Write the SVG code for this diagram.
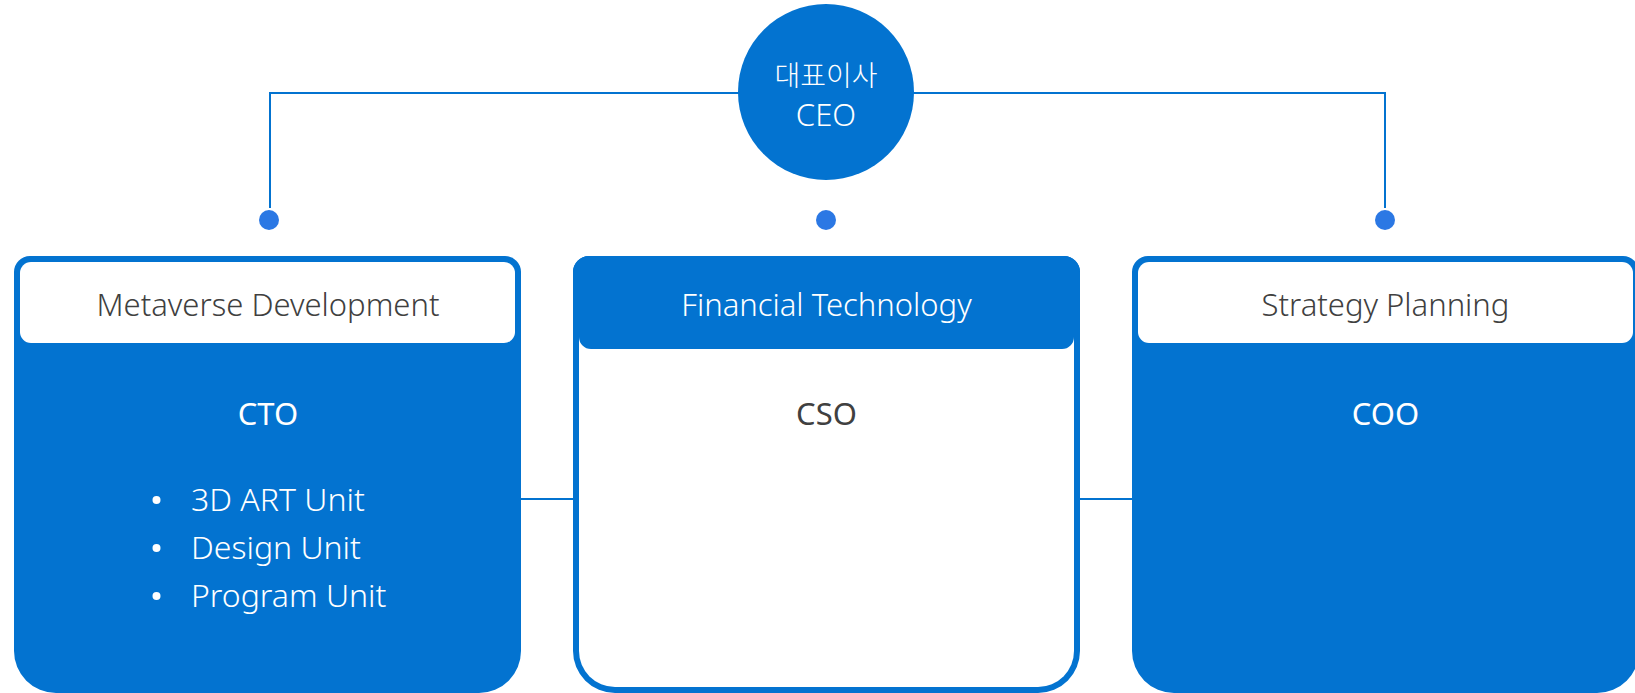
<svg xmlns="http://www.w3.org/2000/svg" width="1635" height="693" viewBox="0 0 1635 693">
<style>
.blue{fill:#0373d0}
.white{fill:#ffffff}
.conn{stroke:#0373d0;stroke-width:2;fill:none}
.dot{fill:#2b78e4}
.t{font-family:"Noto Sans","Noto Sans CJK KR",sans-serif;text-anchor:middle}
.hd{font-size:31px;font-weight:300}
.role{font-size:31px}
.li{font-family:"Noto Sans",sans-serif;font-size:32px;font-weight:300}
.dark{fill:#404040}
.lt{fill:#ffffff}
</style>
<rect width="1635" height="693" fill="#ffffff"/>
<g id="connectors">
<path class="conn" d="M270,208 V93 H1385 V208"/>
<line class="conn" x1="521" y1="499" x2="573" y2="499"/>
<line class="conn" x1="1080" y1="499" x2="1132" y2="499"/>
<circle class="dot" cx="269" cy="220" r="10"/>
<circle class="dot" cx="826" cy="220" r="10"/>
<circle class="dot" cx="1385" cy="220" r="10"/>
</g>
<g id="ceo">
<circle class="blue" cx="826" cy="92" r="88"/>
<text class="t lt" x="826" y="86" font-size="28" font-weight="300" style="font-family:'Noto Sans CJK KR',sans-serif">대표이사</text>
<text class="t lt" x="826" y="126" font-size="31" font-weight="300">CEO</text>
</g>
<g id="cto">
<path class="blue" d="M14,272 A16,16 0 0 1 30,256 H505 A16,16 0 0 1 521,272 V651 A42,42 0 0 1 479,693 H56 A42,42 0 0 1 14,651 Z"/>
<rect class="white" x="20" y="262" width="495" height="81" rx="11"/>
<text class="t hd dark" x="268" y="316">Metaverse Development</text>
<text class="t role lt" x="268" y="425">CTO</text>
<circle class="white" cx="156.5" cy="500" r="4"/>
<circle class="white" cx="156.5" cy="548" r="4"/>
<circle class="white" cx="156.5" cy="596" r="4"/>
<text class="li lt" x="191" y="511">3D ART Unit</text>
<text class="li lt" x="191" y="559">Design Unit</text>
<text class="li lt" x="191" y="607">Program Unit</text>
</g>
<g id="cso">
<path class="blue" d="M573,272 A16,16 0 0 1 589,256 H1064 A16,16 0 0 1 1080,272 V651 A42,42 0 0 1 1038,693 H615 A42,42 0 0 1 573,651 Z"/>
<path class="white" d="M579,330 H1074 V651 A36,36 0 0 1 1038,687 H615 A36,36 0 0 1 579,651 Z"/>
<path class="blue" d="M573,272 A16,16 0 0 1 589,256 H1064 A16,16 0 0 1 1080,272 V337 H1074 A12,12 0 0 1 1062,349 H591 A12,12 0 0 1 579,337 H573 Z"/>
<text class="t hd lt" x="826.5" y="316">Financial Technology</text>
<text class="t role dark" x="826.5" y="425">CSO</text>
</g>
<g id="coo">
<path class="blue" d="M1132,272 A16,16 0 0 1 1148,256 H1623 A16,16 0 0 1 1639,272 V651 A42,42 0 0 1 1597,693 H1174 A42,42 0 0 1 1132,651 Z"/>
<rect class="white" x="1138" y="262" width="495" height="81" rx="11"/>
<text class="t hd dark" x="1385.5" y="316">Strategy Planning</text>
<text class="t role lt" x="1385.5" y="425">COO</text>
</g>
</svg>
